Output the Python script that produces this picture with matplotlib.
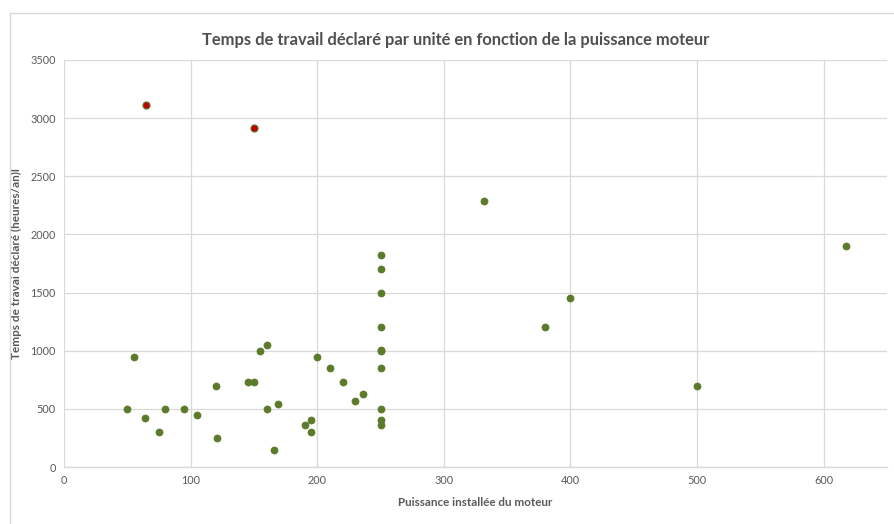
import matplotlib
matplotlib.use('Agg')
import matplotlib.pyplot as plt
from matplotlib.lines import Line2D

plt.rcParams['font.family'] = ['Lato', 'DejaVu Sans']

# Puissance (x) et temps de travail (y)
puissance = [50, 55, 64, 75, 80, 95, 105, 120, 121, 145, 150, 155, 160, 160,
             166, 169, 190, 195, 195, 200, 210, 220, 230, 236,
             250, 250, 250, 250, 250, 250, 250, 250, 250, 250,
             332, 380, 400, 500, 618]
temps = [500, 950, 420, 300, 500, 500, 450, 700, 250, 730, 730, 1000, 1050, 500,
         150, 540, 365, 400, 300, 950, 855, 730, 570, 630,
         1820, 1700, 1500, 1200, 1010, 1000, 855, 500, 400, 365,
         2290, 1200, 1450, 700, 1900]

# Valeurs aberrantes (en rouge)
puissance_ab = [65, 150]
temps_ab = [3110, 2915]

vert = '#5B7A2A'
rouge = '#C00000'
gris = '#595959'
grille = '#D9D9D9'

fig = plt.figure(figsize=(8.94, 5.24), dpi=100)
ax = fig.add_axes([64 / 894, 1 - 467 / 524, (887 - 64) / 894, (467 - 60) / 524])

ax.scatter(puissance, temps, s=26, color=vert, edgecolors=vert, linewidths=0.5, zorder=3)
ax.scatter(puissance_ab, temps_ab, s=26, color=rouge, edgecolors=vert, linewidths=0.8, zorder=3)

ax.set_xlim(0, 650)
ax.set_ylim(0, 3500)
ax.set_xticks(range(0, 700, 100))
ax.set_yticks(range(0, 4000, 500))
ax.grid(True, color=grille, linewidth=0.9)
ax.set_axisbelow(True)
for s in ['top', 'right', 'left']:
    ax.spines[s].set_visible(False)
ax.spines['bottom'].set_color(grille)
ax.spines['bottom'].set_linewidth(1.0)
ax.tick_params(length=0, labelsize=7.8, labelcolor=gris, pad=6)

ax.set_title('Temps de travail déclaré par unité en fonction de la puissance moteur',
             fontsize=11.9, fontweight='bold', color='#505050', pad=11, x=0.476)
ax.set_xlabel('Puissance installée du moteur', fontsize=8.4, fontweight='bold',
              color=gris, labelpad=8)
ax.set_ylabel('Temps de travai déclaré (heures/an)l', fontsize=8.5, fontweight='bold',
              color=gris, labelpad=6)

# Cadre du graphique
fig.add_artist(Line2D([10 / 894, 10 / 894], [0, 1 - 13 / 524], color=grille, linewidth=1.0))
fig.add_artist(Line2D([10 / 894, 1], [1 - 13 / 524, 1 - 13 / 524], color=grille, linewidth=1.0))

fig.savefig('out.png', dpi=100)
